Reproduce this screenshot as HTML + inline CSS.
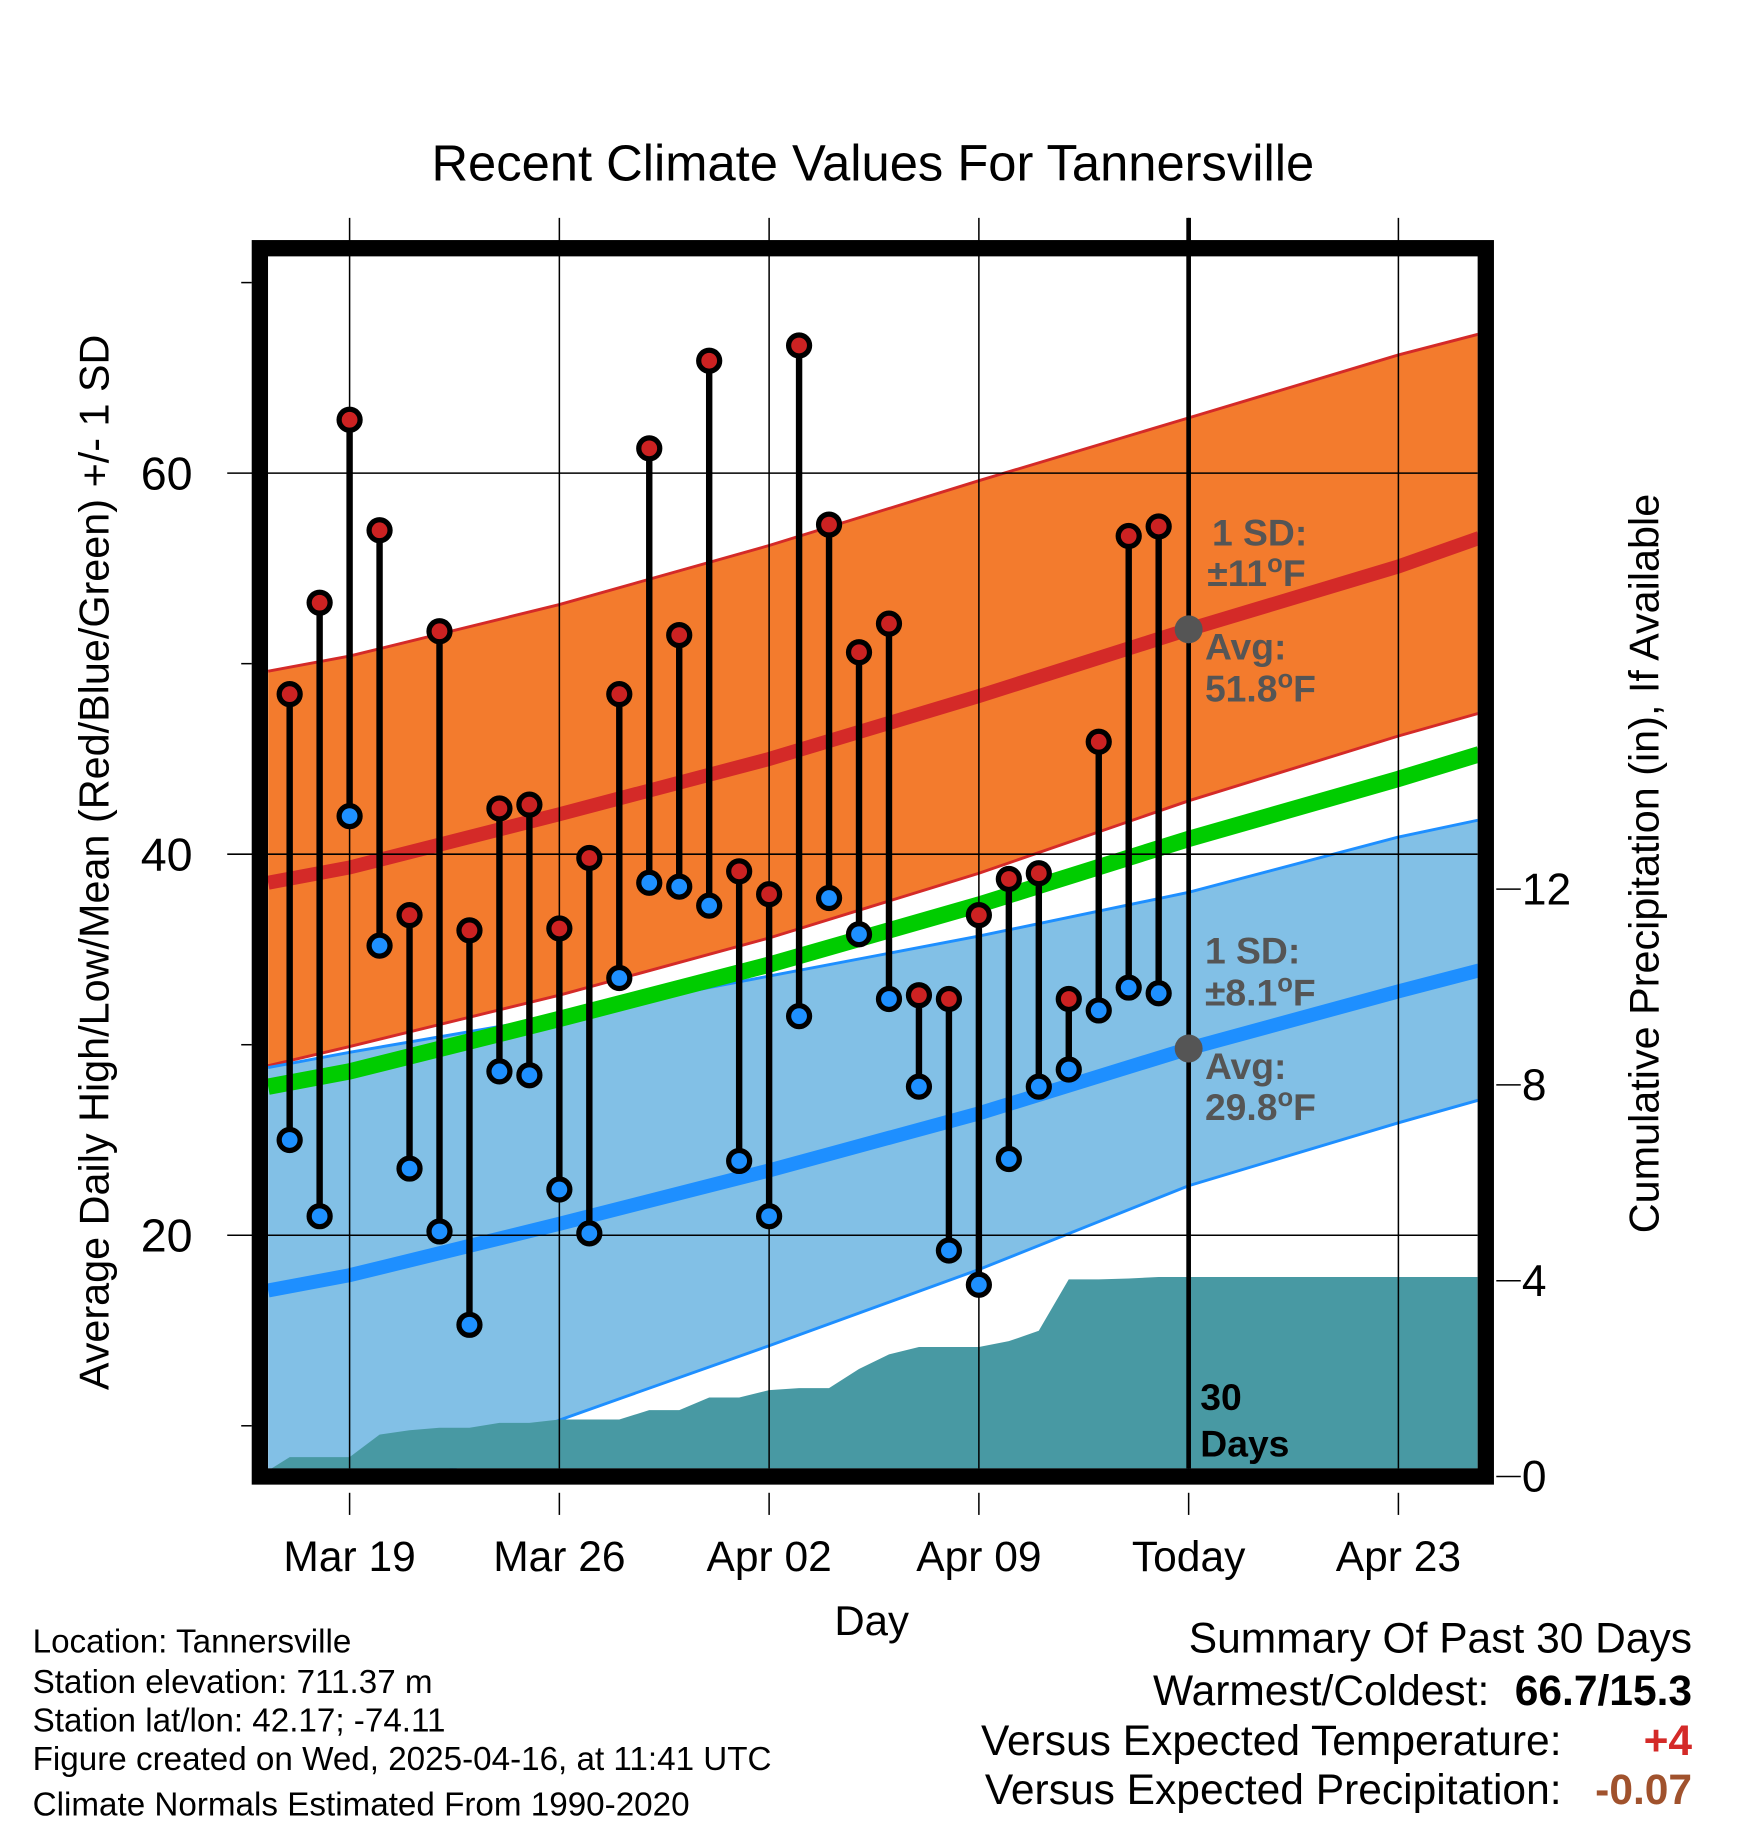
<!DOCTYPE html>
<html><head><meta charset="utf-8"><style>
html,body{margin:0;padding:0;background:#fff;}
svg{display:block;font-family:"Liberation Sans",Arial,sans-serif;}
</style></head><body>
<svg id="chart" width="1748" height="1828" viewBox="0 0 1500 1568.65" xmlns="http://www.w3.org/2000/svg">
<defs><clipPath id="pc"><rect x="230" y="220" width="1038" height="1040"/></clipPath></defs>
<rect x="0" y="0" width="1500" height="1569" fill="#fff"/>
<text x="749" y="155" font-size="43.5" text-anchor="middle">Recent Climate Values For Tannersville</text>
<g id="plot" clip-path="url(#pc)"></g>
<g id="over"></g>
<g id="axes"></g>
<text transform="translate(93,740) rotate(-90)" font-size="35.5" text-anchor="middle">Average Daily High/Low/Mean (Red/Blue/Green) +/- 1 SD</text>
<text transform="translate(1423,741) rotate(-90)" font-size="35.5" text-anchor="middle">Cumulative Precipitation (in), If Available</text>
<text x="748" y="1403" font-size="36" text-anchor="middle">Day</text>
<g font-size="28.5">
<text x="28" y="1418">Location: Tannersville</text>
<text x="28" y="1453">Station elevation: 711.37 m</text>
<text x="28" y="1486">Station lat/lon: 42.17; -74.11</text>
<text x="28" y="1519">Figure created on Wed, 2025-04-16, at 11:41 UTC</text>
<text x="28" y="1558">Climate Normals Estimated From 1990-2020</text>
</g>
<g font-size="36.5" text-anchor="end">
<text x="1452" y="1418">Summary Of Past 30 Days</text>
<text x="1278" y="1463">Warmest/Coldest:</text>
<text x="1452" y="1463" font-weight="bold">66.7/15.3</text>
<text x="1340" y="1506">Versus Expected Temperature:</text>
<text x="1452" y="1506" font-weight="bold" fill="#d42a28">+4</text>
<text x="1340" y="1548">Versus Expected Precipitation:</text>
<text x="1452" y="1548" font-weight="bold" fill="#a0522d">-0.07</text>
</g>
<script>
// ---- data ----
const obsDays = [-2,-1,0,1,2,3,4,5,6,7,8,9,10,11,12,13,14,15,16,17,18,19,20,21,22,23,24,25,26,27];
const highs = [48.4,53.2,62.8,57.0,36.8,51.7,36.0,42.4,42.6,36.1,39.8,48.4,61.3,51.5,65.9,39.1,37.9,66.7,57.3,50.6,52.1,32.6,32.4,36.8,38.7,39.0,32.4,45.9,56.7,57.2];
const lows = [25.0,21.0,42.0,35.2,23.5,20.2,15.3,28.6,28.4,22.4,20.1,33.5,38.5,38.3,37.3,23.9,21.0,31.5,37.7,35.8,32.4,27.8,19.2,17.4,24.0,27.8,28.7,31.8,33.0,32.7];
const precip = [0.3,0.3,0.3,0.76,0.85,0.9,0.9,1.0,1.0,1.07,1.07,1.07,1.26,1.26,1.52,1.52,1.67,1.71,1.71,2.1,2.4,2.55,2.55,2.55,2.67,2.88,3.93,3.93,3.95,3.98];
const normDays = [-2.72,0,7,14,21,28,35,37.7];
const normHi = [38.5,39.3,42.1,45.0,48.3,51.8,55.1,56.6];
const hiUp = [49.6,50.4,53.1,56.2,59.6,62.9,66.2,67.3];
const hiLo = [28.9,29.9,32.6,35.6,39.0,42.8,46.2,47.4];
const normLo = [17.1,17.9,20.6,23.4,26.4,29.8,32.8,33.9];
const loUp = [28.8,29.6,31.5,33.6,35.7,38.0,40.9,41.8];
const loLo = [3.5,5.3,10.3,14.2,18.2,22.6,25.9,27.1];
const xTickDays = [0,7,14,21,28,35];
const xTickLabels = ["Mar 19","Mar 26","Apr 02","Apr 09","Today","Apr 23"];
const yTicks = [20,40,60];
const yMinor = [10,30,50,70];
const pTicks = [0,4,8,12];
const todayDay = 28;
// ---- scales ----
const X = d => 300 + d*(180/7);
const Y = v => 406 - (v-60)*16.35;
const P = v => 1263 - v*42;
const NS = "http://www.w3.org/2000/svg";
function mk(tag, parent, attrs){const e=document.createElementNS(NS,tag);for(const k in attrs)e.setAttribute(k,attrs[k]);parent.appendChild(e);return e;}
const plot=document.getElementById('plot'), over=document.getElementById('over'), axes=document.getElementById('axes');
function poly(xs, ys){return xs.map((x,i)=>X(x).toFixed(1)+','+ys[i].toFixed(1)).join(' ');}
let e;
e=mk('polygon',plot,{points:poly(normDays,hiUp.map(Y))+' '+poly(normDays.slice().reverse(),hiLo.slice().reverse().map(Y)),fill:'#f37b2d'});


e=mk('polygon',plot,{points:poly(normDays,loUp.map(Y))+' '+poly(normDays.slice().reverse(),loLo.slice().reverse().map(Y)),fill:'#82c0e6'});


[[hiUp,'#d42a28'],[hiLo,'#d42a28'],[loUp,'#1e8fff'],[loLo,'#1e8fff']].forEach(([a,c])=>{
 e=mk('polyline',plot,{points:poly(normDays,a.map(Y)),fill:'none',stroke:c,'stroke-width':2.5});
 
 
});
let pp='230,1262 ';
obsDays.forEach((d,i)=>{pp+=X(d).toFixed(1)+','+P(precip[i]).toFixed(1)+' ';});
pp+='1268,'+P(precip[precip.length-1]).toFixed(1)+' 1268,1262';
e=mk('polygon',plot,{points:pp,fill:'#4899a3'});


e=mk('polyline',plot,{points:poly(normDays,normHi.map(v=>Y(v))),fill:'none',stroke:'#d42a28','stroke-width':12});


e=mk('polyline',plot,{points:poly(normDays,normLo.map(v=>Y(v))),fill:'none',stroke:'#1e8fff','stroke-width':12});


e=mk('polyline',plot,{points:poly(normDays,normHi.map((v,i)=>Y((v+normLo[i])/2))),fill:'none',stroke:'#00cc00','stroke-width':14});


xTickDays.forEach(d=>{e=mk('line',over,{x1:X(d),x2:X(d),y1:187,y2:1260,stroke:'#000','stroke-width':1.3});
 
 });
yTicks.forEach(v=>{e=mk('line',over,{x1:195,x2:1268,y1:Y(v),y2:Y(v),stroke:'#000','stroke-width':1.3});
 
 });
yMinor.forEach(v=>{e=mk('line',over,{x1:207,x2:216,y1:Y(v),y2:Y(v),stroke:'#000','stroke-width':1.3});
 
 });
pTicks.forEach(v=>{e=mk('line',over,{x1:1284,x2:1305,y1:P(v)+4,y2:P(v)+4,stroke:'#000','stroke-width':1.3});
 
 
 e=mk('text',over,{x:1306,y:P(v)+17,'font-size':38});
 e.textContent=String(v);
 
 });
e=mk('line',over,{x1:X(todayDay),x2:X(todayDay),y1:187,y2:1260,stroke:'#000','stroke-width':4});


obsDays.forEach((d,i)=>{
 e=mk('line',over,{x1:X(d),x2:X(d),y1:Y(highs[i]),y2:Y(lows[i]),stroke:'#000','stroke-width':5.5});
 
 
 e=mk('circle',over,{cx:X(d),cy:Y(highs[i]),r:9,fill:'#cc2222',stroke:'#000','stroke-width':4.5});
 
 
 e=mk('circle',over,{cx:X(d),cy:Y(lows[i]),r:9,fill:'#1e90ff',stroke:'#000','stroke-width':4.5});
 
 
});
const ti=normDays.indexOf(todayDay);
[[normHi[ti],'high'],[normLo[ti],'low']].forEach(([v,n])=>{
 e=mk('circle',over,{cx:X(todayDay),cy:Y(v),r:12,fill:'#555'});
 
 
});
function lab(parts,x,y,fill,name){e=mk('text',over,{x:x,y:y,'font-size':32,'font-weight':'bold',fill:fill});
 parts.forEach(p=>{const t=mk('tspan',e,p[1]?{dy:p[1],'font-size':p[2]}:{});t.textContent=p[0];});
 
 }
lab([['1 SD:']],1040,468,'#555','high-sd-label');
lab([['\u00b111'],['o',-12,22],['F',12,32]],1036,503,'#555','high-sd-value');
lab([['Avg:']],1034,566,'#555','high-avg-label');
lab([[normHi[ti].toFixed(1)],['o',-12,22],['F',12,32]],1034,602,'#555','high-avg-value');
lab([['1 SD:']],1034,827,'#555','low-sd-label');
lab([['\u00b18.1'],['o',-12,22],['F',12,32]],1034,863,'#555','low-sd-value');
lab([['Avg:']],1034,926,'#555','low-avg-label');
lab([[normLo[ti].toFixed(1)],['o',-12,22],['F',12,32]],1034,961,'#555','low-avg-value');
lab([['30']],1030,1210,'#000','days-label');
lab([['Days']],1030,1250,'#000','days-label-2');
e=mk('rect',axes,{x:223,y:213,width:1052,height:1054,fill:'none',stroke:'#000','stroke-width':14});


yTicks.forEach(v=>{e=mk('text',axes,{x:143,y:Y(v)+14,'font-size':40,'text-anchor':'middle'});e.textContent=String(v);
 
 });
xTickDays.forEach((d,i)=>{e=mk('line',axes,{x1:X(d),x2:X(d),y1:1281,y2:1300,stroke:'#000','stroke-width':1.3});
 
 
 e=mk('text',axes,{x:X(d),y:1348,'font-size':36.5,'text-anchor':'middle'});e.textContent=xTickLabels[i];
 
 });
</script>
</svg>
</body></html>
